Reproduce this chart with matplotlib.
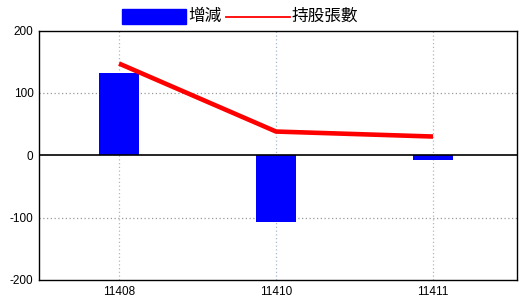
import matplotlib
matplotlib.use('Agg')
import matplotlib.pyplot as plt
from matplotlib.patches import Rectangle
from matplotlib.lines import Line2D

plt.rcParams['axes.unicode_minus'] = False

# data
months = ['11408', '11410', '11411']
change = [132, -107, -7]          # 增減
holders = [147, 38, 30]           # 持股張數
yticks = [-200, -100, 0, 100, 200]

cjk = ['Noto Sans CJK TC', 'DejaVu Sans']

fig = plt.figure(figsize=(5.2, 3.0), dpi=100)
ax = fig.add_axes([39 / 520, 20 / 300, 478 / 520, 249.5 / 300])

x = list(range(len(months)))
ax.bar(x, change, width=0.255, color='#0000ff', zorder=2)
ax.plot(x, holders, color='#ff0000', linewidth=3.3, solid_capstyle='butt', zorder=3)
ax.axhline(0, color='black', linewidth=1.2, zorder=4)

ax.set_xlim(-0.51, 2.535)
ax.set_ylim(-200, 200)
ax.set_xticks(x)
ax.set_xticklabels(months)
ax.set_yticks(yticks)
ax.tick_params(length=0, labelsize=8.5, pad=4)
for lab in ax.get_xticklabels() + ax.get_yticklabels():
    lab.set_family('Liberation Sans')

# dotted grid, horizontal grey / vertical bluish
for v in [-100, 100]:
    ax.axhline(v, color='#999999', linestyle=(0, (1, 2)), linewidth=0.9, zorder=1)
for xi in x:
    ax.axvline(xi, color='#a8b8cc', linestyle=(0, (1, 2)), linewidth=0.9, zorder=1)

for sp in ax.spines.values():
    sp.set_color('black')
    sp.set_linewidth(1)

# legend drawn on top of the figure
fig.patches.append(Rectangle((122 / 520, 1 - 24 / 300), 64 / 520, 15 / 300,
                             transform=fig.transFigure, color='#0000ff'))
fig.text(188 / 520, 1 - 16.5 / 300, '增減', family=cjk, fontsize=12, va='center')
fig.lines.append(Line2D([226 / 520, 290 / 520], [1 - 16.5 / 300] * 2,
                        transform=fig.transFigure, color='#ff0000', linewidth=1.3))
fig.text(292 / 520, 1 - 16.5 / 300, '持股張數', family=cjk, fontsize=12, va='center')

fig.savefig('out.png', dpi=100)
